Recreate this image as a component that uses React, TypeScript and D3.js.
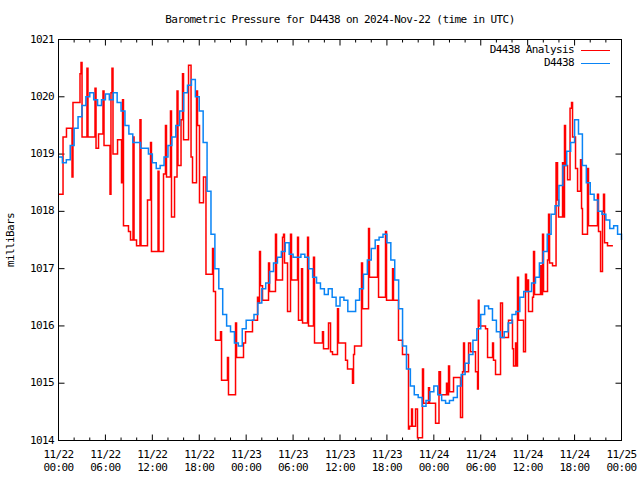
import React from "react";
import * as d3 from "d3";

// chart text
const TITLE = "Barometric Pressure for D4438 on 2024-Nov-22 (time in UTC)";
const Y_LABEL = "milliBars";
const SERIES_NAMES = ["D4438 Analysis", "D4438"];

// y axis: millibars
const yTicks = [1014, 1015, 1016, 1017, 1018, 1019, 1020, 1021];

// x axis: hours since 11/22 00:00, labelled every 6h
const xTickHours = [0, 6, 12, 18, 24, 30, 36, 42, 48, 54, 60, 66, 72];
const xTickDates = ["11/22", "11/22", "11/22", "11/22", "11/23", "11/23", "11/23", "11/23", "11/24", "11/24", "11/24", "11/24", "11/25"];
const xTickTimes = ["00:00", "06:00", "12:00", "18:00", "00:00", "06:00", "12:00", "18:00", "00:00", "06:00", "12:00", "18:00", "00:00"];
const minorStepHours = 2;

// D4438 observations, every 30 minutes from 11/22 00:00
const stationStep = 0.5;
const stationValues = [
  1018.95, 1018.85, 1018.9, 1019.15, 1019.45, 1019.65, 1019.85, 1020.0, 1020.07, 1019.95,
  1019.85, 1019.95, 1020.05, 1019.95, 1020.07, 1019.9, 1019.75, 1019.5, 1019.35, 1019.2,
  1019.2, 1019.1, 1019.1, 1019.0, 1018.85, 1018.75, 1018.8, 1018.95, 1019.15, 1019.3,
  1019.5, 1019.75, 1020.07, 1020.2, 1020.3, 1020.0, 1019.75, 1019.2, 1018.35, 1017.6,
  1017.0, 1016.65, 1016.2, 1016.0, 1015.9, 1015.7, 1015.65, 1015.95, 1016.1, 1016.1,
  1016.2, 1016.4, 1016.65, 1016.75, 1016.95, 1017.1, 1017.2, 1017.3, 1017.45, 1017.25,
  1017.2, 1017.2, 1017.25, 1017.2, 1017.0, 1016.85, 1016.75, 1016.65, 1016.55, 1016.65,
  1016.5, 1016.35, 1016.5, 1016.45, 1016.25, 1016.25, 1016.45, 1016.65, 1016.9, 1017.15,
  1017.35, 1017.5, 1017.55, 1017.6, 1017.45, 1017.15, 1016.8, 1016.3, 1015.65, 1015.25,
  1014.95, 1014.8, 1014.75, 1014.6, 1014.7, 1014.85, 1014.95, 1014.8, 1014.7, 1014.65,
  1014.7, 1014.75, 1014.95, 1015.15, 1015.35, 1015.5, 1015.75, 1015.95, 1016.2, 1016.35,
  1016.3, 1016.1, 1015.9, 1015.8, 1015.9, 1016.05, 1016.2, 1016.25, 1016.5, 1016.6,
  1016.6, 1016.75, 1016.85, 1017.1, 1017.3, 1017.6, 1017.95, 1018.1, 1018.45, 1018.8,
  1019.05, 1019.2, 1019.6, 1019.35, 1018.8, 1018.5, 1018.3, 1018.2, 1018.0, 1017.95,
  1017.85, 1017.7, 1017.75, 1017.6, 1017.5,
];

// D4438 Analysis: change times (hours) and held values
const analysisHours = [
  0, 0.58, 1.02, 1.73, 1.85, 2.75, 2.88, 3.01, 3.64, 3.77,
  4.67, 4.8, 5.12, 5.69, 5.82, 6.59, 6.71, 6.84, 6.97, 7.55,
  8.06, 8.19, 8.31, 8.95, 9.21, 9.53, 9.66, 9.98, 10.42, 10.55,
  11.38, 11.77, 11.89, 12.73, 12.85, 13.43, 13.68, 13.81, 14.32, 14.45,
  14.84, 15.16, 15.28, 15.67, 15.86, 15.99, 16.63, 16.95, 17.14, 17.65,
  17.78, 18.03, 18.54, 18.86, 19.7, 19.82, 20.08, 20.72, 20.85, 21.61,
  21.74, 22.64, 22.77, 23.66, 23.92, 24.81, 25.45, 25.58, 25.71, 25.83,
  26.09, 26.86, 26.99, 27.75, 27.88, 28.65, 28.78, 28.9, 29.29, 29.67,
  29.8, 30.57, 30.69, 31.08, 31.21, 31.85, 31.97, 32.61, 32.74, 33.76,
  33.89, 34.53, 34.79, 35.04, 35.68, 35.81, 36.71, 36.96, 37.6, 37.73,
  37.86, 38.75, 38.88, 39.65, 39.77, 40.8, 40.93, 41.82, 41.95, 42.72,
  42.84, 43.48, 43.99, 44.76, 44.89, 45.15, 45.27, 45.66, 45.91, 46.55,
  46.68, 47.32, 47.45, 48.22, 48.66, 48.85, 49.62, 49.75, 49.88, 50.01,
  50.52, 51.41, 51.67, 51.8, 51.92, 52.44, 52.69, 53.33, 53.59, 53.69,
  53.78, 54.61, 54.87, 55.51, 55.63, 55.89, 56.53, 56.78, 57.55, 58.06,
  58.19, 58.45, 58.57, 58.7, 58.83, 59.47, 59.72, 59.85, 59.98, 60.11,
  60.62, 60.75, 60.88, 61.64, 61.77, 61.9, 62.03, 62.54, 62.67, 62.8,
  63.18, 63.63, 63.82, 63.95, 64.46, 64.59, 64.71, 64.84, 65.1, 65.42,
  65.61, 65.74, 66.12, 66.38, 66.76, 66.89, 67.01, 67.65, 67.78, 68.93,
  69.06, 69.32, 69.57, 69.7, 69.83, 70.21, 70.9,
];
const analysisValues = [
  1018.3, 1019.3, 1019.45, 1018.6, 1019.9, 1020.4, 1020.6, 1019.3, 1020.5, 1019.3,
  1020.15, 1019.1, 1019.35, 1020.1, 1019.15, 1018.3, 1020.07, 1020.5, 1019.0, 1019.25,
  1018.5, 1019.95, 1017.75, 1017.65, 1017.5, 1019.3, 1017.5, 1017.4, 1019.6, 1017.4,
  1018.2, 1019.2, 1017.3, 1018.7, 1017.3, 1018.65, 1019.5, 1018.6, 1019.75, 1017.9,
  1018.6, 1020.1, 1018.8, 1019.6, 1020.4, 1019.25, 1020.55, 1018.95, 1018.5, 1020.1,
  1019.5, 1018.15, 1018.6, 1016.9, 1017.35, 1016.6, 1015.75, 1015.9, 1015.05, 1015.45,
  1014.8, 1016.05, 1015.45, 1015.7, 1015.9, 1016.1, 1016.5, 1016.4, 1017.3, 1016.7,
  1016.45, 1017.1, 1016.6, 1017.6, 1016.8, 1017.55, 1017.6, 1017.1, 1016.25, 1017.6,
  1016.8, 1017.55, 1016.1, 1017.0, 1016.05, 1017.55, 1016.0, 1017.2, 1015.7, 1015.9,
  1015.6, 1016.05, 1015.55, 1015.5, 1016.3, 1015.7, 1015.4, 1015.25, 1015.0, 1015.5,
  1015.65, 1017.1, 1016.3, 1017.7, 1016.85, 1017.4, 1016.5, 1017.65, 1016.45, 1017.0,
  1016.45, 1015.75, 1015.5, 1014.2, 1014.25, 1014.55, 1014.25, 1014.55, 1014.05, 1015.25,
  1014.65, 1014.92, 1014.65, 1014.3, 1015.2, 1014.8, 1015.0, 1014.8, 1015.3, 1014.85,
  1015.1, 1014.4, 1015.2, 1015.7, 1015.2, 1015.7, 1015.55, 1015.2, 1014.9, 1016.45,
  1016.0, 1015.95, 1015.45, 1015.7, 1015.4, 1015.15, 1016.4, 1015.8, 1016.1, 1015.6,
  1015.3, 1015.7, 1015.3, 1016.85, 1016.1, 1015.55, 1016.9, 1016.6, 1016.8, 1016.25,
  1016.5, 1017.3, 1016.55, 1017.05, 1016.55, 1017.6, 1016.6, 1017.15, 1017.95, 1017.1,
  1017.05, 1018.85, 1018.2, 1017.9, 1018.85, 1017.9, 1019.5, 1018.8, 1018.55, 1019.8,
  1019.9, 1019.3, 1018.75, 1018.35, 1018.9, 1018.05, 1017.6, 1018.75, 1017.75, 1018.3,
  1017.65, 1016.95, 1018.0, 1018.3, 1017.45, 1017.4, 1017.4,
];

const RED = "#ff0000";
const BLUE = "#0a84f5";
const FONT = "'DejaVu Sans Mono', 'Liberation Mono', monospace";

const width = 640;
const height = 480;
const margin = { top: 39, right: 19, bottom: 40, left: 58 };

export default function App() {
  const x = d3
    .scaleLinear()
    .domain([0, 72])
    .range([margin.left + 0.5, width - margin.right + 0.5]);
  const y = d3
    .scaleLinear()
    .domain([1014, 1021])
    .range([height - margin.bottom + 0.5, margin.top + 0.5]);

  const stepLine = d3
    .line<[number, number]>()
    .x((d) => x(d[0]))
    .y((d) => y(d[1]))
    .curve(d3.curveStepAfter);

  const analysis: [number, number][] = analysisHours.map((h, i) => [h, analysisValues[i]]);
  const station: [number, number][] = stationValues.map((v, i) => [i * stationStep, v]);

  const x0 = x(0);
  const x1 = x(72);
  const yTop = y(1021);
  const yBot = y(1014);

  const minorHours = d3.range(0, 72 + minorStepHours, minorStepHours).filter((h) => h % 6 !== 0);

  const textStyle = { fontFamily: FONT, fontSize: 11, letterSpacing: -0.6 };

  return (
    <div style={{ position: "absolute", left: 0, top: 0 }}>
      <svg width={width} height={height} style={{ display: "block", background: "white" }}>
        <rect width={width} height={height} fill="white" />

        <text x={340} y={20} textAnchor="middle" dominantBaseline="middle" style={textStyle}>
          {TITLE}
        </text>

        <text
          transform={`translate(11, 240) rotate(-90)`}
          textAnchor="middle"
          dominantBaseline="middle"
          style={textStyle}
        >
          {Y_LABEL}
        </text>

        {/* y ticks, mirrored on the right */}
        {yTicks.map((t) => (
          <g key={`y-${t}`}>
            <line x1={x0} x2={x0 + 6} y1={y(t)} y2={y(t)} stroke="black" />
            <line x1={x1} x2={x1 - 6} y1={y(t)} y2={y(t)} stroke="black" />
            <text x={54} y={y(t)} textAnchor="end" dominantBaseline="middle" style={textStyle}>
              {t}
            </text>
          </g>
        ))}

        {/* x ticks, mirrored on top */}
        {xTickHours.map((h, i) => (
          <g key={`x-${h}`}>
            <line x1={x(h)} x2={x(h)} y1={yBot} y2={yBot - 6} stroke="black" />
            <line x1={x(h)} x2={x(h)} y1={yTop} y2={yTop + 6} stroke="black" />
            <text x={x(h)} y={455} textAnchor="middle" dominantBaseline="middle" style={textStyle}>
              {xTickDates[i]}
            </text>
            <text x={x(h)} y={468} textAnchor="middle" dominantBaseline="middle" style={textStyle}>
              {xTickTimes[i]}
            </text>
          </g>
        ))}
        {minorHours.map((h) => (
          <g key={`m-${h}`}>
            <line x1={x(h)} x2={x(h)} y1={yBot} y2={yBot - 3} stroke="black" />
            <line x1={x(h)} x2={x(h)} y1={yTop} y2={yTop + 3} stroke="black" />
          </g>
        ))}

        <path d={stepLine(analysis) ?? ""} fill="none" stroke={RED} strokeWidth={1.5} />
        <path d={stepLine(station) ?? ""} fill="none" stroke={BLUE} strokeWidth={1.5} />

        {/* legend */}
        {SERIES_NAMES.map((name, i) => (
          <g key={name}>
            <text x={574} y={50 + i * 13} textAnchor="end" dominantBaseline="middle" style={textStyle}>
              {name}
            </text>
            <line
              x1={581}
              x2={610}
              y1={50.5 + i * 13}
              y2={50.5 + i * 13}
              stroke={i === 0 ? RED : BLUE}
              strokeWidth={1}
            />
          </g>
        ))}

        <rect x={x0} y={yTop} width={x1 - x0} height={yBot - yTop} fill="none" stroke="black" />
      </svg>
    </div>
  );
}
